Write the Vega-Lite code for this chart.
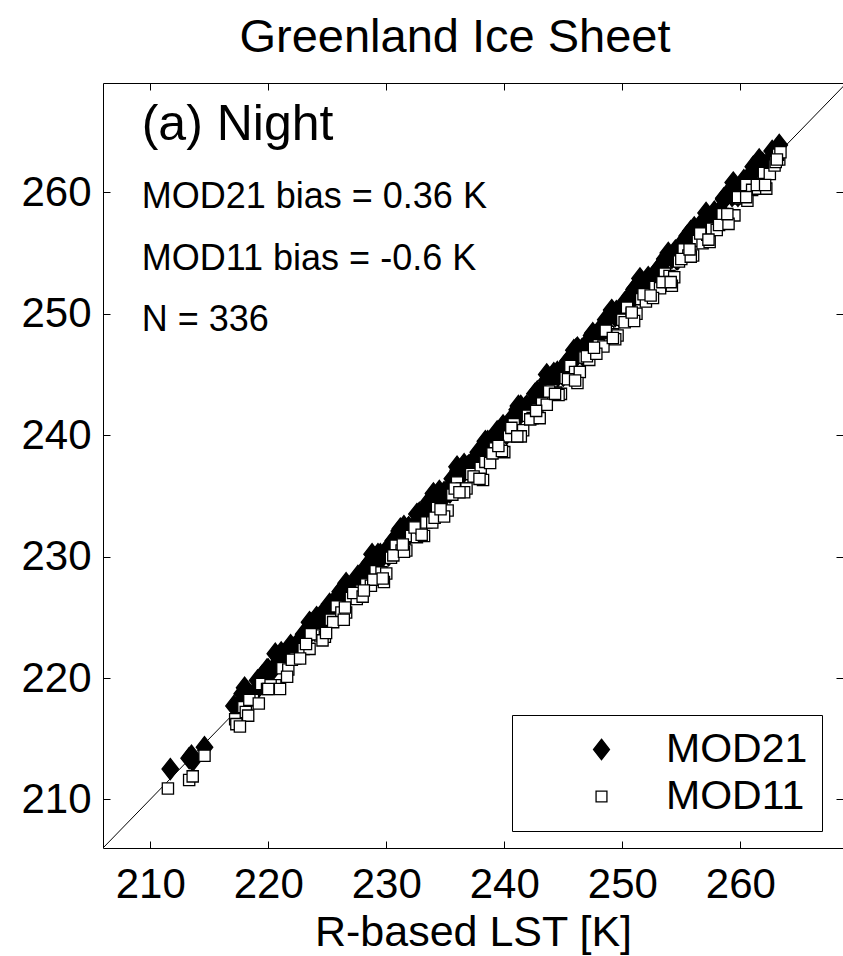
{
"$schema":"https://vega.github.io/schema/vega-lite/v6.json",
"width":740,"height":765,
"autosize":{"type":"none"},
"padding":{"left":103,"top":83,"right":0,"bottom":108},
"background":"white",
"title":{"text":"Greenland Ice Sheet","fontSize":47,"font":"Liberation Sans","fontWeight":"normal","color":"black","anchor":"middle","dx":-18,"offset":-16,"baseline":"alphabetic"},
"datasets":{
"pts":[
{"p":"MOD21","r":211.7,"m":212.5},{"p":"MOD21","r":213.3,"m":213.4},{"p":"MOD21","r":213.6,"m":213.2},{"p":"MOD21","r":213.5,"m":213.6},{"p":"MOD21","r":214.6,"m":214.3},
{"p":"MOD21","r":217.1,"m":217.7},{"p":"MOD21","r":217.4,"m":217.6},{"p":"MOD21","r":217.8,"m":218.7},{"p":"MOD21","r":218.2,"m":218.6},{"p":"MOD21","r":218.5,"m":218.4},{"p":"MOD21","r":219.1,"m":219.8},{"p":"MOD21","r":219.6,"m":219.9},{"p":"MOD21","r":220.0,"m":220.7},{"p":"MOD21","r":221.0,"m":221.5},{"p":"MOD21","r":221.4,"m":221.5},{"p":"MOD21","r":221.9,"m":222.7},{"p":"MOD21","r":222.6,"m":223.0},
{"p":"MOD21","r":223.3,"m":223.9},{"p":"MOD21","r":223.7,"m":223.9},{"p":"MOD21","r":224.1,"m":225.0},{"p":"MOD21","r":224.6,"m":225.0},{"p":"MOD21","r":225.0,"m":224.9},{"p":"MOD21","r":225.5,"m":226.2},{"p":"MOD21","r":226.0,"m":226.3},{"p":"MOD21","r":226.3,"m":227.3},{"p":"MOD21","r":226.8,"m":227.3},{"p":"MOD21","r":227.2,"m":227.3},{"p":"MOD21","r":227.6,"m":228.4},{"p":"MOD21","r":228.1,"m":228.5},
{"p":"MOD21","r":228.5,"m":229.1},{"p":"MOD21","r":228.9,"m":229.1},{"p":"MOD21","r":229.3,"m":230.2},{"p":"MOD21","r":229.8,"m":230.2},{"p":"MOD21","r":230.2,"m":230.1},{"p":"MOD21","r":230.6,"m":231.3},{"p":"MOD21","r":231.0,"m":231.3},{"p":"MOD21","r":231.5,"m":232.5},{"p":"MOD21","r":231.9,"m":232.4},{"p":"MOD21","r":232.3,"m":232.4},{"p":"MOD21","r":232.8,"m":233.6},{"p":"MOD21","r":233.2,"m":233.6},
{"p":"MOD21","r":233.6,"m":234.2},{"p":"MOD21","r":234.1,"m":234.3},{"p":"MOD21","r":234.5,"m":235.4},{"p":"MOD21","r":234.9,"m":235.3},{"p":"MOD21","r":235.4,"m":235.3},{"p":"MOD21","r":235.8,"m":236.5},{"p":"MOD21","r":236.2,"m":236.5},{"p":"MOD21","r":236.6,"m":237.6},{"p":"MOD21","r":237.0,"m":237.5},{"p":"MOD21","r":237.4,"m":237.5},{"p":"MOD21","r":237.8,"m":238.6},{"p":"MOD21","r":238.2,"m":238.6},
{"p":"MOD21","r":238.6,"m":239.2},{"p":"MOD21","r":239.0,"m":239.2},{"p":"MOD21","r":239.4,"m":240.3},{"p":"MOD21","r":239.8,"m":240.2},{"p":"MOD21","r":240.2,"m":240.1},{"p":"MOD21","r":240.6,"m":241.3},{"p":"MOD21","r":241.0,"m":241.3},{"p":"MOD21","r":241.4,"m":242.4},{"p":"MOD21","r":241.8,"m":242.3},{"p":"MOD21","r":242.2,"m":242.3},{"p":"MOD21","r":242.6,"m":243.4},{"p":"MOD21","r":243.0,"m":243.4},
{"p":"MOD21","r":243.4,"m":244.0},{"p":"MOD21","r":243.8,"m":244.0},{"p":"MOD21","r":244.2,"m":245.1},{"p":"MOD21","r":244.6,"m":245.0},{"p":"MOD21","r":245.0,"m":244.9},{"p":"MOD21","r":245.4,"m":246.1},{"p":"MOD21","r":245.8,"m":246.1},{"p":"MOD21","r":246.2,"m":247.2},{"p":"MOD21","r":246.6,"m":247.1},{"p":"MOD21","r":247.0,"m":247.1},{"p":"MOD21","r":247.4,"m":248.2},{"p":"MOD21","r":247.8,"m":248.2},
{"p":"MOD21","r":248.2,"m":248.8},{"p":"MOD21","r":248.6,"m":248.8},{"p":"MOD21","r":249.0,"m":249.9},{"p":"MOD21","r":249.4,"m":249.8},{"p":"MOD21","r":249.8,"m":249.7},{"p":"MOD21","r":250.2,"m":250.9},{"p":"MOD21","r":250.6,"m":250.9},{"p":"MOD21","r":251.0,"m":252.0},{"p":"MOD21","r":251.4,"m":251.9},{"p":"MOD21","r":251.8,"m":251.9},{"p":"MOD21","r":252.2,"m":253.0},{"p":"MOD21","r":252.6,"m":253.0},
{"p":"MOD21","r":253.0,"m":253.6},{"p":"MOD21","r":253.4,"m":253.6},{"p":"MOD21","r":253.8,"m":254.7},{"p":"MOD21","r":254.2,"m":254.6},{"p":"MOD21","r":254.6,"m":254.5},{"p":"MOD21","r":255.0,"m":255.7},{"p":"MOD21","r":255.4,"m":255.7},{"p":"MOD21","r":255.8,"m":256.8},{"p":"MOD21","r":256.2,"m":256.7},{"p":"MOD21","r":256.6,"m":256.7},{"p":"MOD21","r":257.0,"m":257.8},{"p":"MOD21","r":257.4,"m":257.8},
{"p":"MOD21","r":257.8,"m":258.4},{"p":"MOD21","r":258.3,"m":258.5},{"p":"MOD21","r":258.8,"m":259.7},{"p":"MOD21","r":259.3,"m":259.7},{"p":"MOD21","r":259.8,"m":259.7},{"p":"MOD21","r":260.3,"m":261.0},{"p":"MOD21","r":260.8,"m":261.1},{"p":"MOD21","r":261.3,"m":262.0},{"p":"MOD21","r":261.8,"m":262.3},{"p":"MOD21","r":262.3,"m":262.4},{"p":"MOD21","r":262.7,"m":263.4},{"p":"MOD21","r":263.1,"m":263.5},{"p":"MOD21","r":263.3,"m":263.9},
{"p":"MOD21","r":218.0,"m":219.2},{"p":"MOD21","r":218.9,"m":218.9},{"p":"MOD21","r":219.9,"m":220.7},{"p":"MOD21","r":220.6,"m":222.0},{"p":"MOD21","r":222.2,"m":222.5},{"p":"MOD21","r":223.0,"m":223.6},{"p":"MOD21","r":223.5,"m":224.6},{"p":"MOD21","r":224.3,"m":224.1},{"p":"MOD21","r":225.2,"m":226.1},{"p":"MOD21","r":225.9,"m":226.4},
{"p":"MOD21","r":226.6,"m":227.8},{"p":"MOD21","r":227.4,"m":227.4},{"p":"MOD21","r":228.2,"m":229.0},{"p":"MOD21","r":228.8,"m":230.2},{"p":"MOD21","r":229.6,"m":229.9},{"p":"MOD21","r":230.4,"m":231.0},{"p":"MOD21","r":231.2,"m":232.3},{"p":"MOD21","r":231.7,"m":231.5},{"p":"MOD21","r":232.6,"m":233.5},{"p":"MOD21","r":233.4,"m":233.9},
{"p":"MOD21","r":234.0,"m":235.2},{"p":"MOD21","r":234.8,"m":234.8},{"p":"MOD21","r":235.6,"m":236.4},{"p":"MOD21","r":236.0,"m":237.4},{"p":"MOD21","r":236.9,"m":237.2},{"p":"MOD21","r":237.7,"m":238.3},{"p":"MOD21","r":238.4,"m":239.5},{"p":"MOD21","r":239.1,"m":238.9},{"p":"MOD21","r":239.9,"m":240.8},{"p":"MOD21","r":240.7,"m":241.2},
{"p":"MOD21","r":241.2,"m":242.4},{"p":"MOD21","r":242.0,"m":242.0},{"p":"MOD21","r":242.8,"m":243.6},{"p":"MOD21","r":243.6,"m":245.0},{"p":"MOD21","r":244.4,"m":244.7},{"p":"MOD21","r":245.2,"m":245.8},{"p":"MOD21","r":245.9,"m":247.0},{"p":"MOD21","r":246.7,"m":246.5},{"p":"MOD21","r":247.5,"m":248.4},{"p":"MOD21","r":248.3,"m":248.8},
{"p":"MOD21","r":249.1,"m":250.3},{"p":"MOD21","r":249.9,"m":249.9},{"p":"MOD21","r":250.7,"m":251.5},{"p":"MOD21","r":251.5,"m":252.9},{"p":"MOD21","r":252.3,"m":252.6},{"p":"MOD21","r":253.1,"m":253.7},{"p":"MOD21","r":253.9,"m":255.0},{"p":"MOD21","r":254.7,"m":254.5},{"p":"MOD21","r":255.5,"m":256.4},{"p":"MOD21","r":256.3,"m":256.8},
{"p":"MOD21","r":257.1,"m":258.3},{"p":"MOD21","r":257.9,"m":257.9},{"p":"MOD21","r":258.6,"m":259.4},{"p":"MOD21","r":259.4,"m":260.8},{"p":"MOD21","r":260.1,"m":260.4},{"p":"MOD21","r":260.9,"m":261.5},{"p":"MOD21","r":261.6,"m":262.7},{"p":"MOD21","r":262.4,"m":262.2},
{"p":"MOD21","r":219.5,"m":220.2},{"p":"MOD21","r":220.3,"m":220.6},{"p":"MOD21","r":221.1,"m":222.1},{"p":"MOD21","r":221.9,"m":222.4},{"p":"MOD21","r":222.8,"m":223.0},{"p":"MOD21","r":223.6,"m":224.5},{"p":"MOD21","r":224.5,"m":225.2},{"p":"MOD21","r":225.3,"m":225.6},{"p":"MOD21","r":226.1,"m":227.1},{"p":"MOD21","r":226.9,"m":227.4},
{"p":"MOD21","r":227.8,"m":228.0},{"p":"MOD21","r":228.6,"m":229.5},{"p":"MOD21","r":229.5,"m":230.2},{"p":"MOD21","r":230.3,"m":230.6},{"p":"MOD21","r":231.1,"m":232.1},{"p":"MOD21","r":231.9,"m":232.4},{"p":"MOD21","r":232.8,"m":233.0},{"p":"MOD21","r":233.6,"m":234.5},{"p":"MOD21","r":234.5,"m":235.2},{"p":"MOD21","r":235.3,"m":235.6},
{"p":"MOD21","r":236.1,"m":237.1},{"p":"MOD21","r":236.9,"m":237.4},{"p":"MOD21","r":237.8,"m":238.0},{"p":"MOD21","r":238.6,"m":239.5},{"p":"MOD21","r":239.5,"m":240.2},{"p":"MOD21","r":240.3,"m":240.6},{"p":"MOD21","r":241.1,"m":242.1},{"p":"MOD21","r":241.9,"m":242.4},{"p":"MOD21","r":242.8,"m":243.0},{"p":"MOD21","r":243.6,"m":244.5},
{"p":"MOD21","r":244.5,"m":245.2},{"p":"MOD21","r":245.3,"m":245.6},{"p":"MOD21","r":246.1,"m":247.1},{"p":"MOD21","r":246.9,"m":247.4},{"p":"MOD21","r":247.8,"m":248.0},{"p":"MOD21","r":248.6,"m":249.5},{"p":"MOD21","r":249.5,"m":250.2},{"p":"MOD21","r":250.3,"m":250.6},{"p":"MOD21","r":251.1,"m":252.1},{"p":"MOD21","r":251.9,"m":252.4},
{"p":"MOD21","r":252.8,"m":253.0},{"p":"MOD21","r":253.6,"m":254.5},{"p":"MOD21","r":254.5,"m":255.2},{"p":"MOD21","r":255.3,"m":255.6},{"p":"MOD21","r":256.1,"m":257.1},{"p":"MOD21","r":256.9,"m":257.4},{"p":"MOD21","r":257.8,"m":258.0},{"p":"MOD21","r":258.6,"m":259.5},{"p":"MOD21","r":259.5,"m":260.2},{"p":"MOD21","r":260.3,"m":260.6},
{"p":"MOD21","r":261.1,"m":262.1},{"p":"MOD21","r":261.9,"m":262.4},{"p":"MOD21","r":262.9,"m":263.2},
{"p":"MOD11","r":211.5,"m":210.9},{"p":"MOD11","r":213.3,"m":211.6},{"p":"MOD11","r":213.6,"m":211.9},{"p":"MOD11","r":214.6,"m":213.6},
{"p":"MOD11","r":217.2,"m":216.6},{"p":"MOD11","r":217.3,"m":216.2},{"p":"MOD11","r":217.9,"m":217.6},{"p":"MOD11","r":218.1,"m":217.2},{"p":"MOD11","r":218.3,"m":216.9},{"p":"MOD11","r":218.7,"m":218.2},{"p":"MOD11","r":219.4,"m":219.5},{"p":"MOD11","r":219.9,"m":219.1},{"p":"MOD11","r":220.6,"m":219.4},{"p":"MOD11","r":221.2,"m":220.8},{"p":"MOD11","r":221.7,"m":220.7},{"p":"MOD11","r":222.3,"m":221.6},
{"p":"MOD11","r":223.0,"m":222.4},{"p":"MOD11","r":223.5,"m":222.4},{"p":"MOD11","r":223.9,"m":223.6},{"p":"MOD11","r":224.4,"m":223.5},{"p":"MOD11","r":224.8,"m":223.4},{"p":"MOD11","r":225.3,"m":224.8},{"p":"MOD11","r":225.8,"m":225.9},{"p":"MOD11","r":226.2,"m":225.4},{"p":"MOD11","r":226.6,"m":225.4},{"p":"MOD11","r":227.0,"m":226.6},{"p":"MOD11","r":227.5,"m":226.5},{"p":"MOD11","r":227.9,"m":227.2},
{"p":"MOD11","r":228.3,"m":227.7},{"p":"MOD11","r":228.7,"m":227.6},{"p":"MOD11","r":229.1,"m":228.8},{"p":"MOD11","r":229.6,"m":228.7},{"p":"MOD11","r":230.0,"m":228.6},{"p":"MOD11","r":230.4,"m":229.9},{"p":"MOD11","r":230.8,"m":230.9},{"p":"MOD11","r":231.3,"m":230.5},{"p":"MOD11","r":231.7,"m":230.5},{"p":"MOD11","r":232.1,"m":231.7},{"p":"MOD11","r":232.6,"m":231.6},{"p":"MOD11","r":233.0,"m":232.3},
{"p":"MOD11","r":233.4,"m":232.8},{"p":"MOD11","r":233.9,"m":232.8},{"p":"MOD11","r":234.3,"m":234.0},{"p":"MOD11","r":234.7,"m":233.8},{"p":"MOD11","r":235.2,"m":233.8},{"p":"MOD11","r":235.6,"m":235.1},{"p":"MOD11","r":236.0,"m":236.1},{"p":"MOD11","r":236.4,"m":235.6},{"p":"MOD11","r":236.8,"m":235.6},{"p":"MOD11","r":237.2,"m":236.8},{"p":"MOD11","r":237.6,"m":236.6},{"p":"MOD11","r":238.0,"m":237.3},
{"p":"MOD11","r":238.4,"m":237.8},{"p":"MOD11","r":238.8,"m":237.7},{"p":"MOD11","r":239.2,"m":238.9},{"p":"MOD11","r":239.6,"m":238.7},{"p":"MOD11","r":240.0,"m":238.6},{"p":"MOD11","r":240.4,"m":239.9},{"p":"MOD11","r":240.8,"m":240.9},{"p":"MOD11","r":241.2,"m":240.4},{"p":"MOD11","r":241.6,"m":240.4},{"p":"MOD11","r":242.0,"m":241.6},{"p":"MOD11","r":242.4,"m":241.4},{"p":"MOD11","r":242.8,"m":242.1},
{"p":"MOD11","r":243.2,"m":242.6},{"p":"MOD11","r":243.6,"m":242.5},{"p":"MOD11","r":244.0,"m":243.7},{"p":"MOD11","r":244.4,"m":243.5},{"p":"MOD11","r":244.8,"m":243.4},{"p":"MOD11","r":245.2,"m":244.7},{"p":"MOD11","r":245.6,"m":245.7},{"p":"MOD11","r":246.0,"m":245.2},{"p":"MOD11","r":246.4,"m":245.2},{"p":"MOD11","r":246.8,"m":246.4},{"p":"MOD11","r":247.2,"m":246.2},{"p":"MOD11","r":247.6,"m":246.9},
{"p":"MOD11","r":248.0,"m":247.4},{"p":"MOD11","r":248.4,"m":247.3},{"p":"MOD11","r":248.8,"m":248.5},{"p":"MOD11","r":249.2,"m":248.3},{"p":"MOD11","r":249.6,"m":248.2},{"p":"MOD11","r":250.0,"m":249.5},{"p":"MOD11","r":250.4,"m":250.5},{"p":"MOD11","r":250.8,"m":250.0},{"p":"MOD11","r":251.2,"m":250.0},{"p":"MOD11","r":251.6,"m":251.2},{"p":"MOD11","r":252.0,"m":251.0},{"p":"MOD11","r":252.4,"m":251.7},
{"p":"MOD11","r":252.8,"m":252.2},{"p":"MOD11","r":253.2,"m":252.1},{"p":"MOD11","r":253.6,"m":253.3},{"p":"MOD11","r":254.0,"m":253.1},{"p":"MOD11","r":254.4,"m":253.0},{"p":"MOD11","r":254.8,"m":254.3},{"p":"MOD11","r":255.2,"m":255.3},{"p":"MOD11","r":255.6,"m":254.8},{"p":"MOD11","r":256.0,"m":254.8},{"p":"MOD11","r":256.4,"m":256.0},{"p":"MOD11","r":256.8,"m":255.8},{"p":"MOD11","r":257.2,"m":256.5},
{"p":"MOD11","r":257.6,"m":257.0},{"p":"MOD11","r":258.0,"m":256.9},{"p":"MOD11","r":258.5,"m":258.2},{"p":"MOD11","r":259.0,"m":258.1},{"p":"MOD11","r":259.5,"m":258.1},{"p":"MOD11","r":260.0,"m":259.5},{"p":"MOD11","r":260.5,"m":260.6},{"p":"MOD11","r":261.0,"m":260.2},{"p":"MOD11","r":261.5,"m":260.3},{"p":"MOD11","r":262.0,"m":261.6},{"p":"MOD11","r":262.5,"m":261.5},{"p":"MOD11","r":262.9,"m":262.2},{"p":"MOD11","r":263.3,"m":262.7},{"p":"MOD11","r":263.2,"m":263.1},{"p":"MOD11","r":263.4,"m":263.3},
{"p":"MOD11","r":217.6,"m":216.0},{"p":"MOD11","r":218.4,"m":218.2},{"p":"MOD11","r":219.2,"m":217.9},{"p":"MOD11","r":220.2,"m":219.4},{"p":"MOD11","r":221.0,"m":219.1},{"p":"MOD11","r":222.0,"m":221.5},{"p":"MOD11","r":222.7,"m":221.6},{"p":"MOD11","r":223.6,"m":223.6},{"p":"MOD11","r":224.6,"m":223.1},{"p":"MOD11","r":225.5,"m":224.6},
{"p":"MOD11","r":226.4,"m":224.8},{"p":"MOD11","r":227.2,"m":227.0},{"p":"MOD11","r":228.0,"m":226.7},{"p":"MOD11","r":228.9,"m":228.1},{"p":"MOD11","r":229.8,"m":227.9},{"p":"MOD11","r":230.6,"m":230.1},{"p":"MOD11","r":231.5,"m":230.4},{"p":"MOD11","r":232.4,"m":232.4},{"p":"MOD11","r":233.2,"m":231.7},{"p":"MOD11","r":234.1,"m":233.2},
{"p":"MOD11","r":234.9,"m":233.3},{"p":"MOD11","r":235.8,"m":235.6},{"p":"MOD11","r":236.6,"m":235.3},{"p":"MOD11","r":237.4,"m":236.6},{"p":"MOD11","r":238.2,"m":236.3},{"p":"MOD11","r":239.0,"m":238.5},{"p":"MOD11","r":239.8,"m":238.7},{"p":"MOD11","r":240.6,"m":240.6},{"p":"MOD11","r":241.4,"m":239.9},{"p":"MOD11","r":242.2,"m":241.3},
{"p":"MOD11","r":243.0,"m":241.4},{"p":"MOD11","r":243.8,"m":243.6},{"p":"MOD11","r":244.6,"m":243.3},{"p":"MOD11","r":245.4,"m":244.6},{"p":"MOD11","r":246.2,"m":244.3},{"p":"MOD11","r":247.0,"m":246.5},{"p":"MOD11","r":247.8,"m":246.7},{"p":"MOD11","r":248.6,"m":248.6},{"p":"MOD11","r":249.4,"m":247.9},{"p":"MOD11","r":250.2,"m":249.3},
{"p":"MOD11","r":251.0,"m":249.4},{"p":"MOD11","r":251.8,"m":251.6},{"p":"MOD11","r":252.6,"m":251.3},{"p":"MOD11","r":253.4,"m":252.6},{"p":"MOD11","r":254.2,"m":252.3},{"p":"MOD11","r":255.0,"m":254.5},{"p":"MOD11","r":255.8,"m":254.7},{"p":"MOD11","r":256.6,"m":256.6},{"p":"MOD11","r":257.4,"m":255.9},{"p":"MOD11","r":258.2,"m":257.3},
{"p":"MOD11","r":259.0,"m":257.4},{"p":"MOD11","r":259.8,"m":259.6},{"p":"MOD11","r":260.6,"m":259.3},{"p":"MOD11","r":261.4,"m":260.6},{"p":"MOD11","r":262.2,"m":260.3},{"p":"MOD11","r":263.0,"m":262.5},
{"p":"MOD11","r":220.0,"m":219.1},{"p":"MOD11","r":221.6,"m":220.1},{"p":"MOD11","r":223.2,"m":222.8},{"p":"MOD11","r":224.9,"m":223.7},{"p":"MOD11","r":226.5,"m":225.8},{"p":"MOD11","r":228.1,"m":227.2},{"p":"MOD11","r":229.7,"m":228.2},{"p":"MOD11","r":231.4,"m":231.0},{"p":"MOD11","r":233.0,"m":231.8},{"p":"MOD11","r":234.6,"m":233.9},
{"p":"MOD11","r":236.2,"m":235.3},{"p":"MOD11","r":237.9,"m":236.4},{"p":"MOD11","r":239.5,"m":239.1},{"p":"MOD11","r":241.1,"m":239.9},{"p":"MOD11","r":242.7,"m":242.0},{"p":"MOD11","r":244.3,"m":243.4},{"p":"MOD11","r":246.0,"m":244.5},{"p":"MOD11","r":247.6,"m":247.2},{"p":"MOD11","r":249.2,"m":248.0},{"p":"MOD11","r":250.8,"m":250.1},
{"p":"MOD11","r":252.4,"m":251.5},{"p":"MOD11","r":254.1,"m":252.6},{"p":"MOD11","r":255.7,"m":255.3},{"p":"MOD11","r":257.3,"m":256.1},{"p":"MOD11","r":258.9,"m":258.2},{"p":"MOD11","r":260.5,"m":259.6},{"p":"MOD11","r":262.1,"m":260.6},{"p":"MOD11","r":263.1,"m":262.7}
]
},
"layer":[
{"data":{"values":[{"a":206,"b":206,"a2":269,"b2":269}]},
 "mark":{"type":"rule","color":"black","strokeWidth":1,"clip":true},
 "encoding":{
  "x":{"field":"a","type":"quantitative","scale":{"domain":[206,268.7],"nice":false,"zero":false},"axis":{"orient":"bottom","values":[210,220,230,240,250,260],"title":"R-based LST [K]","labelPadding":23,"titleFontSize":43,"titlePadding":6}},
  "y":{"field":"b","type":"quantitative","scale":{"domain":[206,269],"nice":false,"zero":false},"axis":{"orient":"left","values":[210,220,230,240,250,260],"title":null,"labelPadding":19}},
  "x2":{"field":"a2"},"y2":{"field":"b2"}
 }},
{"data":{"name":"pts"},
 "mark":{"type":"point","filled":true,"strokeWidth":1.3,"size":450,"opacity":1,"clip":true},
 "encoding":{
  "x":{"field":"r","type":"quantitative","scale":{"domain":[206,268.7],"nice":false,"zero":false},"axis":{"orient":"top","values":[210,220,230,240,250,260],"labels":false,"title":null}},
  "y":{"field":"m","type":"quantitative","scale":{"domain":[206,269],"nice":false,"zero":false},"axis":{"orient":"right","values":[210,220,230,240,250,260],"labels":false,"title":null,"domain":false}},
  "shape":{"field":"p","type":"nominal","scale":{"domain":["MOD21","MOD11"],"range":["M0,-1L0.78,0L0,1L-0.78,0Z","M-0.53,-0.53L0.53,-0.53L0.53,0.53L-0.53,0.53Z"]},"legend":{"title":null}},
  "fill":{"field":"p","type":"nominal","scale":{"domain":["MOD21","MOD11"],"range":["black","white"]},"legend":{"title":null}},
  "stroke":{"field":"p","type":"nominal","scale":{"domain":["MOD21","MOD11"],"range":["black","black"]},"legend":{"title":null}}
 }},
{"data":{"values":[{"r":209.28,"m":264.31,"t":"(a) Night"}]},
 "mark":{"type":"text","align":"left","baseline":"alphabetic","fontSize":50,"font":"Liberation Sans","color":"black"},
 "encoding":{
  "x":{"field":"r","type":"quantitative","scale":{"domain":[206,268.7],"nice":false,"zero":false},"axis":null},
  "y":{"field":"m","type":"quantitative","scale":{"domain":[206,269],"nice":false,"zero":false},"axis":null},
  "text":{"field":"t"}
 }},
{"data":{"values":[{"r":209.28,"m":258.71,"t":"MOD21 bias = 0.36 K"},{"r":209.28,"m":253.6,"t":"MOD11 bias = -0.6 K"},{"r":209.28,"m":248.58,"t":"N = 336"}]},
 "mark":{"type":"text","align":"left","baseline":"alphabetic","fontSize":36,"font":"Liberation Sans","color":"black"},
 "encoding":{
  "x":{"field":"r","type":"quantitative","scale":{"domain":[206,268.7],"nice":false,"zero":false},"axis":null},
  "y":{"field":"m","type":"quantitative","scale":{"domain":[206,269],"nice":false,"zero":false},"axis":null},
  "text":{"field":"t"}
 }}
],
"resolve":{"scale":{"x":"independent","y":"independent"}},
"config":{
 "view":{"stroke":null},
 "axis":{"grid":false,"domainColor":"black","domainWidth":1,"tickColor":"black","tickWidth":1,"tickSize":-7,"labelFont":"Liberation Sans","labelFontSize":42,"labelColor":"black","titleFont":"Liberation Sans","titleColor":"black","titleFontWeight":"normal","labelFlush":false,"labelOverlap":false},
 "legend":{"orient":"none","legendX":409,"legendY":632,"strokeColor":"black","fillColor":"white","padding":14,"labelFontSize":41,"labelFont":"Liberation Sans","labelColor":"black","symbolSize":420,"symbolOffset":55,"labelOffset":44,"rowPadding":5,"symbolStrokeWidth":1.3,"labelLimit":400}
}
}
